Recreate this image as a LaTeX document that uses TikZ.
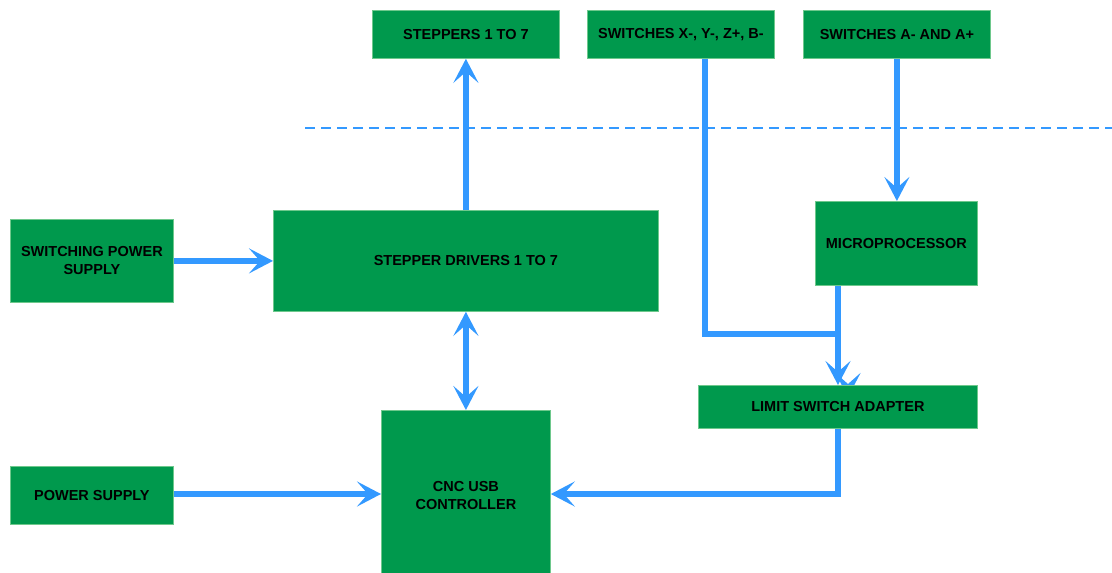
\documentclass[tikz,border=0pt]{standalone}
\usepackage{fontspec}
\setmainfont{Liberation Sans}
\usetikzlibrary{arrows.meta,calc}
\definecolor{boxgreen}{RGB}{0,153,77}
\definecolor{boxedge}{RGB}{110,200,140}
\definecolor{wire}{RGB}{51,153,255}
\pgfdeclarelayer{back}
\pgfsetlayers{back,main}
\tikzset{
  blk/.style={draw=boxedge, line width=0.8pt, fill=boxgreen, anchor=north west,
    inner sep=0pt, align=center, text=black,
    font=\fontsize{14.5}{18}\selectfont\bfseries},
  tipS/.tip={Stealth[length=24pt,width=25pt,inset=11pt]},
  wireline/.style={draw=wire, line width=6pt},
  arr/.style={wireline, -tipS},
  darr/.style={wireline, tipS-tipS},
}
\begin{document}
\begin{tikzpicture}[x=1pt,y=-1pt]
\useasboundingbox (0,0) rectangle (1112,573);

% blocks
\node[blk, minimum width=187pt, minimum height=48pt] (step7) at (372,10) {STEPPERS 1 TO 7};
\node[blk, minimum width=187pt, minimum height=48pt] (swx) at (587,10) {SWITCHES X-, Y-, Z+, B-};
\node[blk, minimum width=187pt, minimum height=48pt] (swa) at (803,10) {SWITCHES A- AND A+};
\node[blk, minimum width=163pt, minimum height=83pt] (sps) at (10,219) {SWITCHING POWER\\SUPPLY};
\node[blk, minimum width=385pt, minimum height=101pt] (drv) at (273,210) {STEPPER DRIVERS 1 TO 7};
\node[blk, minimum width=162pt, minimum height=84pt] (mcu) at (815,201) {MICROPROCESSOR};
\node[blk, minimum width=279pt, minimum height=43pt] (lsa) at (698,385) {LIMIT SWITCH ADAPTER};
\node[blk, minimum width=163pt, minimum height=58pt] (ps) at (10,466) {POWER SUPPLY};
\node[blk, minimum width=169pt, minimum height=170pt] (cnc) at (381,410) {CNC USB\\CONTROLLER};

% tap points on the block edges
\coordinate (xtap) at ($(swx.south west)+(118,0)$);
\coordinate (mtap) at ($(mcu.south west)+(23,0)$);
\coordinate (ltop) at ($(lsa.north west)+(140,0)$);
\coordinate (lbot) at ($(lsa.south west)+(140,0)$);
\coordinate (xjoin) at (705,334);
\coordinate (crow) at (550,494);

% boundary line
\draw[wire, line width=2.5pt, dash pattern=on 10pt off 6pt] (305,128) -- (1112,128);

% connectors
\draw[arr] (drv.north) -- (step7.south);
\draw[arr] (sps.east) -- (sps.east -| drv.west);
\draw[darr] (drv.south) -- (cnc.north);
\draw[arr] (ps.east |- crow) -- (crow -| cnc.west);
\draw[arr] (lbot) |- (crow -| cnc.east);
\draw[arr] (swa.south) -- (swa.south |- mcu.north);
\draw[wireline] (mtap) -- (mtap |- xjoin);
\draw[arr] (xtap) |- (ltop |- xjoin) -- (ltop);
\begin{pgfonlayer}{back}
  \draw[arr] ($(lsa.north west)+(150,2)$) -- ++(0,10);
\end{pgfonlayer}
\end{tikzpicture}
\end{document}
